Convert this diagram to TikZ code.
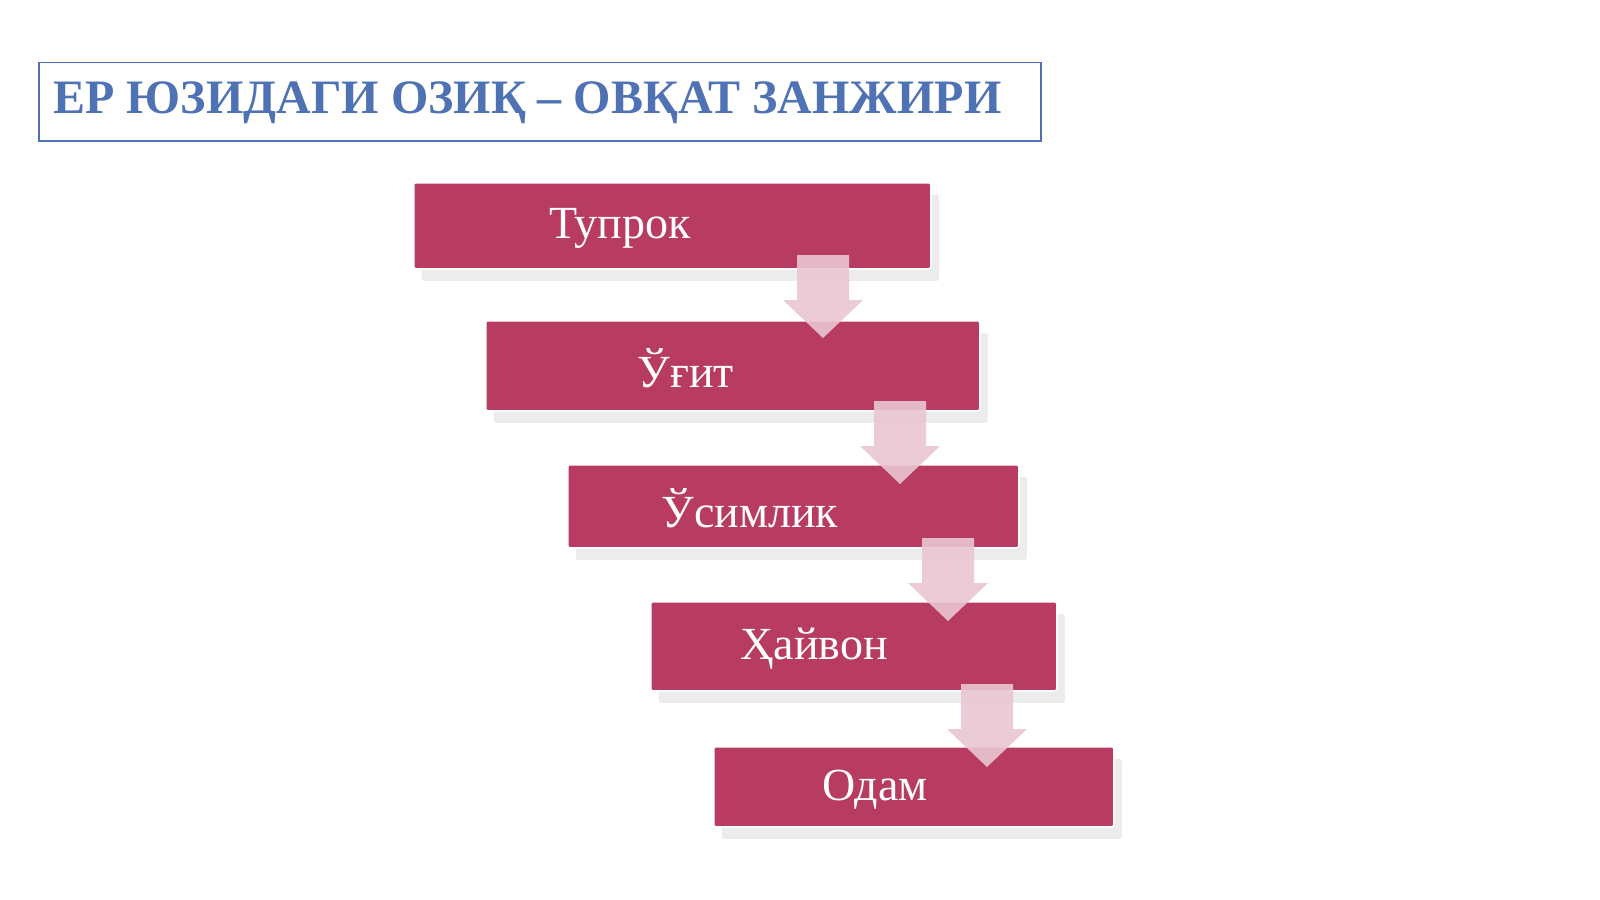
\documentclass[tikz,border=0pt]{standalone}
\usepackage{fontspec}
\setmainfont{Liberation Serif}
\usetikzlibrary{shadows,shapes.arrows}
\definecolor{boxc}{HTML}{B83B62}
\definecolor{titc}{HTML}{4F72B4}
\definecolor{arrc}{HTML}{E9C6D1}
\begin{document}
\begin{tikzpicture}[x=1pt,y=-1pt,
 stepbox/.style={fill=boxc,draw=white,line width=1.5pt,rounded corners=2pt,
   drop shadow={shadow xshift=8pt,shadow yshift=-12pt,opacity=0.15},
   text=white},
 lbl/.style={text=white,font=\fontsize{46}{50}\selectfont},
 darr/.style={fill=arrc,draw=none,opacity=0.9}]
\useasboundingbox (0,0) rectangle (1600,899);
\fill[white] (0,0) rectangle (1600,899);
\node[draw=titc,line width=1.5pt,minimum width=1002pt,minimum height=78pt,anchor=north west,inner sep=0pt] (title) at (38,62) {};
\node[anchor=west,text=titc,font=\bfseries\fontsize{48}{52}\selectfont] (tt) at (50,103) {ЕР ЮЗИДАГИ ОЗИҚ – ОВҚАТ ЗАНЖИРИ};
\def\bx#1#2#3#4#5{\node[stepbox,minimum width=#3-#2 pt,minimum height=#5-#4 pt,inner sep=0pt,anchor=north west] (#1) at (#2,#4) {};}
\bx{b1}{413}{930}{182}{268}
\bx{b2}{485}{979}{320}{410}
\bx{b3}{567}{1018}{464}{547}
\bx{b4}{650}{1056}{601}{690}
\bx{b5}{713}{1113}{746}{826}
\node[lbl] (t1) at (620,228) {Тупрок};
\node[lbl] (t2) at (686,368) {Ўғит};
\node[lbl] (t3) at (750,508) {Ўсимлик};
\node[lbl] (t4) at (814,649) {Ҳайвон};
\node[lbl] (t5) at (875,790) {Одам};
\foreach \c/\t in {823/255,900/401,948/538,987/684}{
 \fill[darr] (\c-26,\t) -- (\c+26,\t) -- (\c+26,\t+45) -- (\c+40,\t+45) -- (\c,\t+83) -- (\c-40,\t+45) -- (\c-26,\t+45) -- cycle;}
\end{tikzpicture}
\end{document}
